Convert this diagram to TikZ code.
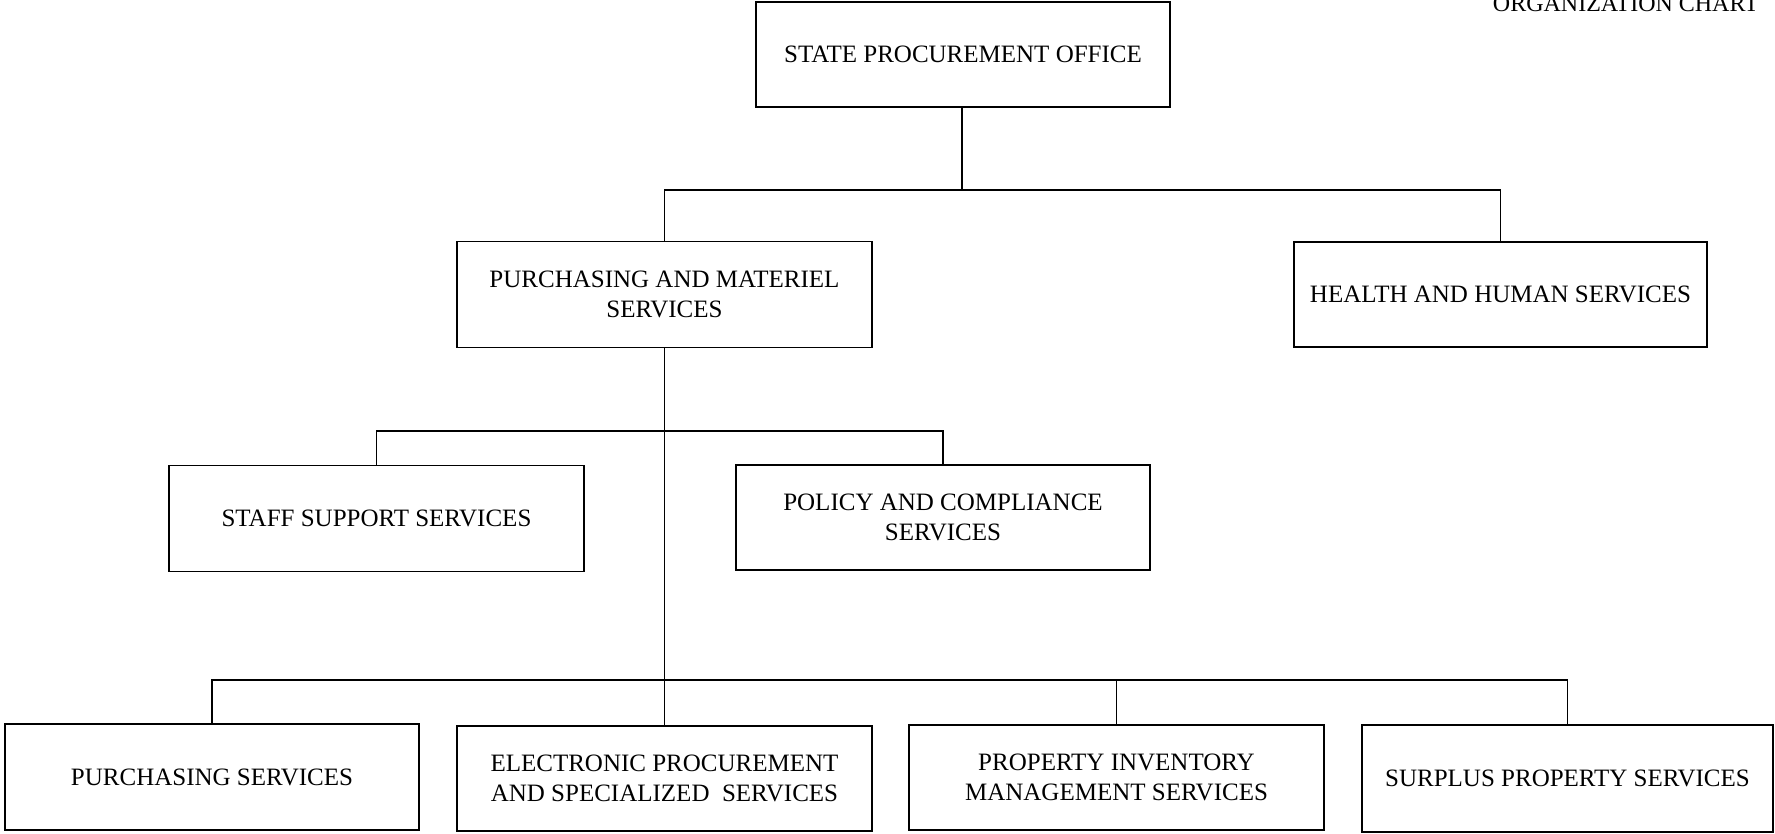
\documentclass[tikz,border=0pt]{standalone}
\usepackage{fontspec}
\setmainfont{Liberation Serif}
\begin{document}
\begin{tikzpicture}[x=1pt,y=-1pt,
  unit/.style={draw=black, line width=1.6pt, inner sep=0pt, align=center,
    font=\fontsize{25}{30}\selectfont, minimum height=#1},
  unit/.default=106pt,
  link/.style={draw=black, line width=1.6pt}]
\useasboundingbox (0,0) rectangle (1775,833);
\node[anchor=base east, inner sep=0pt, font=\fontsize{24}{28}\selectfont] (title) at (1759,11) {ORGANIZATION CHART};
\node[unit=105pt, minimum width=414pt] (spo) at (963,54.5) {STATE PROCUREMENT OFFICE};
\node[unit, minimum width=415pt] (pms) at (664.5,294.5) {PURCHASING AND MATERIEL\\SERVICES};
\node[unit=105pt, minimum width=413pt] (hhs) at (1500.5,294.5) {HEALTH AND HUMAN SERVICES};
\node[unit, minimum width=415pt] (sss) at (376.5,518.5) {STAFF SUPPORT SERVICES};
\node[unit=105pt, minimum width=414pt] (pcs) at (943,517.5) {POLICY AND COMPLIANCE\\SERVICES};
\node[unit, minimum width=414pt] (ps) at (212,777) {PURCHASING SERVICES};
\node[unit=105pt, minimum width=415pt] (epss) at (664.5,778.5) {ELECTRONIC PROCUREMENT\\AND SPECIALIZED\ \ SERVICES};
\node[unit=105pt, minimum width=415pt] (pims) at (1116.5,777.5) {PROPERTY INVENTORY\\MANAGEMENT SERVICES};
\node[unit=107pt, minimum width=411pt] (sps) at (1567.5,778.5) {SURPLUS PROPERTY SERVICES};
\coordinate (j1) at (962,190);
\coordinate (j2) at (664.5,431);
\coordinate (j3) at (664.5,680);
\draw[link] (spo.south -| j1) -- (j1);
\draw[link] (pms.north) |- (j1) -| (hhs.north);
\draw[link] (pms.south) -- (epss.north);
\draw[link] (sss.north) |- (j2) -| (pcs.north);
\draw[link] (ps.north) |- (j3) -| (sps.north);
\draw[link] (pims.north) -- (pims.north |- j3);
\end{tikzpicture}
\end{document}
